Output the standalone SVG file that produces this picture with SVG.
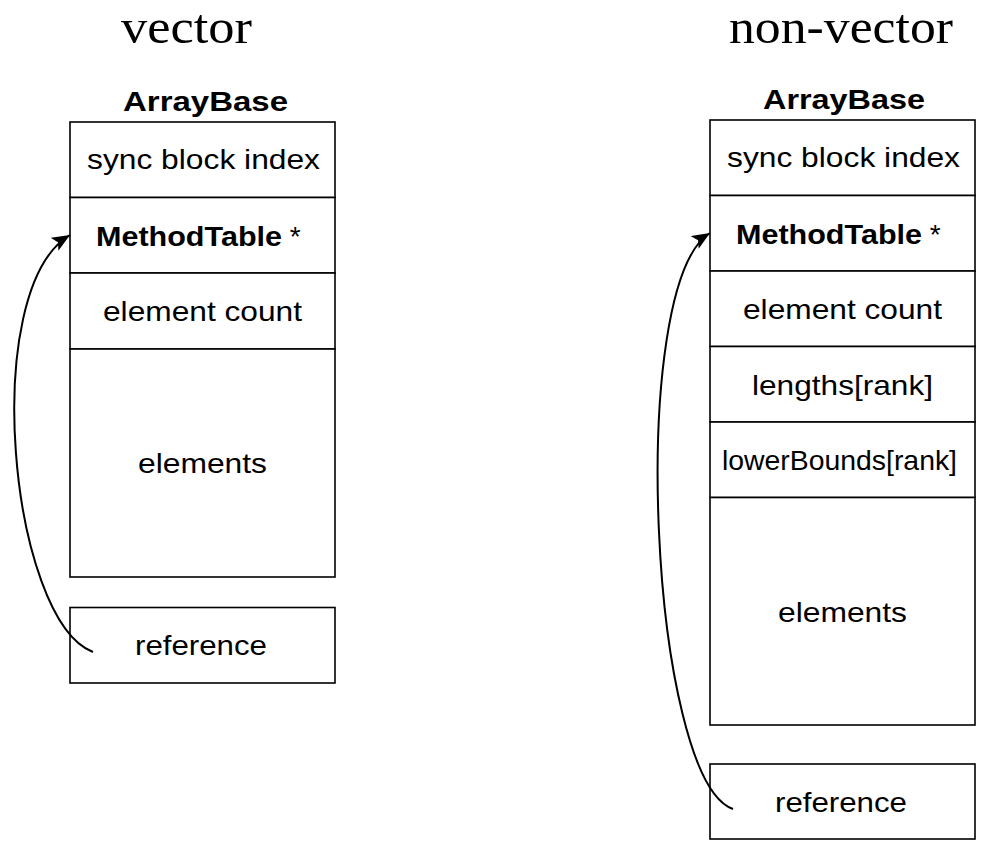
<svg xmlns="http://www.w3.org/2000/svg" width="983" height="842" viewBox="0 0 983 842">
  <style>
    .cell { fill: #fff; stroke: #000; stroke-width: 1.6; }
    .lbl { font-family: "Liberation Sans", Arial, sans-serif; font-size: 28px; fill: #000; text-anchor: start; }
    .b { font-weight: bold; }
    .title { font-family: "Liberation Serif", "Times New Roman", serif; font-size: 48px; fill: #000; }
    .link { fill: none; stroke: #000; stroke-width: 2; }
  </style>
  <defs>
    <marker id="arrow" markerUnits="userSpaceOnUse" markerWidth="22" markerHeight="18" refX="18" refY="7.5" orient="auto">
      <path d="M0,0 L18,7.5 L0,15 L4,7.5 z" fill="#000"/>
    </marker>
  </defs>

  <!-- column titles -->
  <text class="title" x="121" y="43" textLength="131" lengthAdjust="spacingAndGlyphs">vector</text>
  <text class="title" x="729" y="43" textLength="224" lengthAdjust="spacingAndGlyphs">non-vector</text>

  <!-- vector array layout -->
  <g id="vector-array">
    <text class="lbl b" x="123" y="111" textLength="165" lengthAdjust="spacingAndGlyphs" font-size="30">ArrayBase</text>
    <g id="v-sync">
      <rect class="cell" x="70" y="122" width="265" height="75.5"/>
      <text class="lbl" x="87" y="168.5" textLength="233" lengthAdjust="spacingAndGlyphs">sync block index</text>
    </g>
    <g id="v-methodtable">
      <rect class="cell" x="70" y="197.5" width="265" height="75.5"/>
      <text class="lbl" x="96" y="245.5"><tspan class="b" textLength="186" lengthAdjust="spacingAndGlyphs">MethodTable</tspan><tspan> *</tspan></text>
    </g>
    <g id="v-count">
      <rect class="cell" x="70" y="273" width="265" height="76"/>
      <text class="lbl" x="103" y="321" textLength="199" lengthAdjust="spacingAndGlyphs">element count</text>
    </g>
    <g id="v-elements">
      <rect class="cell" x="70" y="349" width="265" height="228"/>
      <text class="lbl" x="138" y="473" textLength="129" lengthAdjust="spacingAndGlyphs">elements</text>
    </g>
  </g>
  <g id="v-reference">
    <rect class="cell" x="70" y="607.5" width="265" height="75.5"/>
    <text class="lbl" x="135" y="655" textLength="132" lengthAdjust="spacingAndGlyphs">reference</text>
  </g>

  <!-- non-vector array layout -->
  <g id="nonvector-array">
    <text class="lbl b" x="763" y="109" textLength="162" lengthAdjust="spacingAndGlyphs" font-size="30">ArrayBase</text>
    <g id="n-sync">
      <rect class="cell" x="710" y="120" width="265" height="75.5"/>
      <text class="lbl" x="727" y="166.5" textLength="233" lengthAdjust="spacingAndGlyphs">sync block index</text>
    </g>
    <g id="n-methodtable">
      <rect class="cell" x="710" y="195.5" width="265" height="75.5"/>
      <text class="lbl" x="736" y="243.5"><tspan class="b" textLength="186" lengthAdjust="spacingAndGlyphs">MethodTable</tspan><tspan> *</tspan></text>
    </g>
    <g id="n-count">
      <rect class="cell" x="710" y="271" width="265" height="75.5"/>
      <text class="lbl" x="743" y="319" textLength="199" lengthAdjust="spacingAndGlyphs">element count</text>
    </g>
    <g id="n-lengths">
      <rect class="cell" x="710" y="346.5" width="265" height="75.5"/>
      <text class="lbl" x="752" y="394.5" textLength="181" lengthAdjust="spacingAndGlyphs">lengths[rank]</text>
    </g>
    <g id="n-lowerbounds">
      <rect class="cell" x="710" y="422" width="265" height="75.5"/>
      <text class="lbl" x="722" y="470" textLength="235" lengthAdjust="spacingAndGlyphs">lowerBounds[rank]</text>
    </g>
    <g id="n-elements">
      <rect class="cell" x="710" y="497.5" width="265" height="227.5"/>
      <text class="lbl" x="778" y="621.5" textLength="129" lengthAdjust="spacingAndGlyphs">elements</text>
    </g>
  </g>
  <g id="n-reference">
    <rect class="cell" x="710" y="764" width="265" height="75"/>
    <text class="lbl" x="775" y="811.5" textLength="132" lengthAdjust="spacingAndGlyphs">reference</text>
  </g>

  <!-- reference → MethodTable pointers -->
  <g id="connectors">
    <path class="link" d="M93,652 C10,620 -22,290 70,235" marker-end="url(#arrow)"/>
    <path class="link" d="M733,809 C650,780 626,285 710,233" marker-end="url(#arrow)"/>
  </g>
</svg>
